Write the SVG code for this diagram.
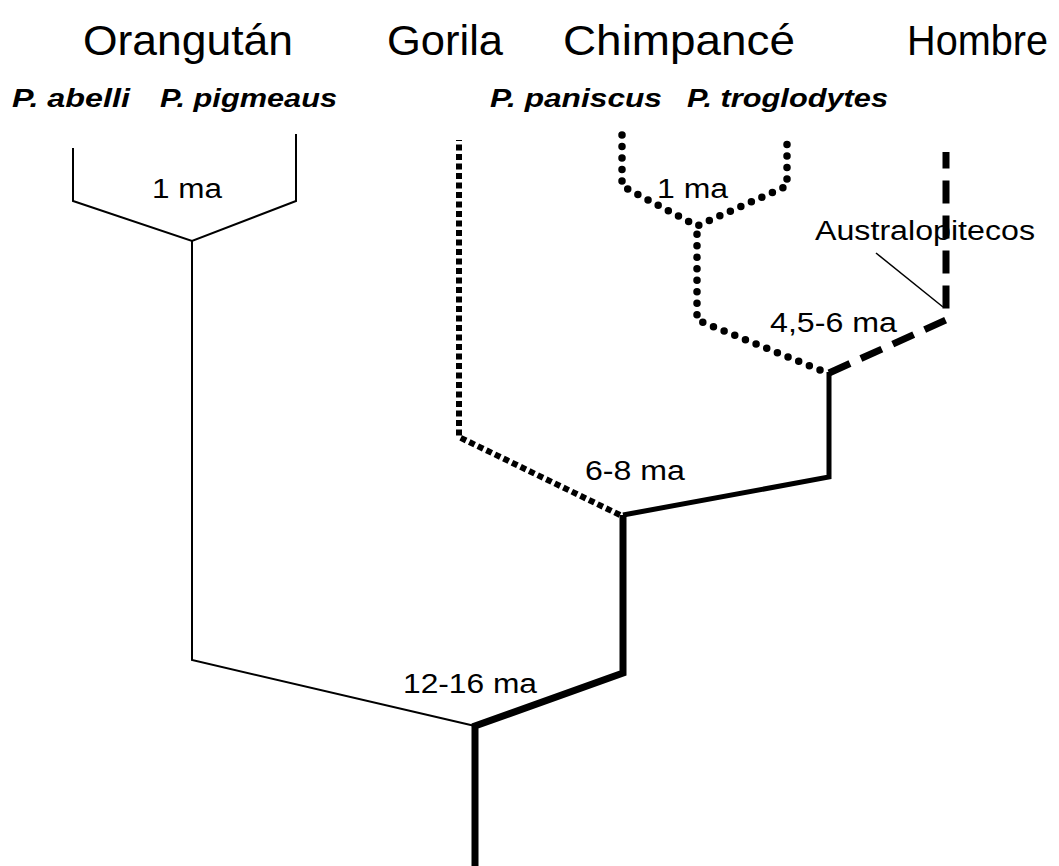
<svg xmlns="http://www.w3.org/2000/svg" width="1059" height="866" viewBox="0 0 1059 866">
  <style>
    .taxon { font-family: "Liberation Sans", Arial, sans-serif; font-size: 43px; fill: #000; }
    .species { font-family: "Liberation Sans", Arial, sans-serif; font-size: 26px; font-weight: bold; font-style: italic; fill: #000; }
    .age { font-family: "Liberation Sans", Arial, sans-serif; font-size: 27px; fill: #000; }
    .branch { fill: none; stroke: #000; stroke-linejoin: miter; }
    .thin { stroke-width: 2; }
    .solid { stroke-width: 5; }
    .heavy { stroke-width: 7; }
    .square-dots { stroke-width: 6; stroke-dasharray: 6 3.5; }
    .round-dots { stroke-width: 7.5; stroke-linecap: round; stroke-dasharray: 0 11.5; }
    .dashed { stroke-width: 7; stroke-dasharray: 23 12; }
  </style>
  <rect width="1059" height="866" fill="#fff"/>

  <!-- Group names -->
  <g id="orangutan">
    <text class="taxon" x="83" y="55" textLength="210" lengthAdjust="spacingAndGlyphs">Orangután</text>
    <text class="species" x="12" y="107" textLength="118" lengthAdjust="spacingAndGlyphs">P. abelli</text>
    <text class="species" x="160" y="107" textLength="177" lengthAdjust="spacingAndGlyphs">P. pigmeaus</text>
    <text class="age" x="152" y="198" textLength="70" lengthAdjust="spacingAndGlyphs">1 ma</text>
  </g>
  <g id="gorila">
    <text class="taxon" x="387" y="55" textLength="116" lengthAdjust="spacingAndGlyphs">Gorila</text>
  </g>
  <g id="chimpance">
    <text class="taxon" x="563" y="55" textLength="232" lengthAdjust="spacingAndGlyphs">Chimpancé</text>
    <text class="species" x="490" y="107" textLength="172" lengthAdjust="spacingAndGlyphs">P. paniscus</text>
    <text class="species" x="687" y="107" textLength="201" lengthAdjust="spacingAndGlyphs">P. troglodytes</text>
    <text class="age" x="657" y="198" textLength="71" lengthAdjust="spacingAndGlyphs">1 ma</text>
  </g>
  <g id="hombre">
    <text class="taxon" x="907" y="55" textLength="141" lengthAdjust="spacingAndGlyphs">Hombre</text>
    <text class="age" x="815" y="240" textLength="220" lengthAdjust="spacingAndGlyphs">Australopitecos</text>
  </g>

  <!-- Divergence times -->
  <g id="divergences">
    <text class="age" x="770" y="332" textLength="127" lengthAdjust="spacingAndGlyphs">4,5-6 ma</text>
    <text class="age" x="585" y="480" textLength="100" lengthAdjust="spacingAndGlyphs">6-8 ma</text>
    <text class="age" x="403" y="693" textLength="134" lengthAdjust="spacingAndGlyphs">12-16 ma</text>
  </g>

  <!-- Branches (drawn over the labels) -->
  <g id="connectors">
    <!-- Orangutan clade -->
    <polyline class="branch thin" points="73,148 73,201 192,241 296,201 296,134"/>
    <polyline class="branch thin" points="192,241 192,660 475,726"/>
    <!-- Root and lineage leading to African apes -->
    <polyline class="branch heavy" points="475,866 475,726 623,673 623,515"/>
    <!-- Gorilla -->
    <polyline class="branch square-dots" points="620,515 459,437 459,140"/>
    <!-- Chimpanzee / human lineage -->
    <polyline class="branch solid" points="623,515 829,477 829,372"/>
    <!-- Chimpanzees -->
    <polyline class="branch round-dots" points="820,370 697,320 697,226"/>
    <polyline class="branch round-dots" points="622,135 622,186 697,226 787,186 787,135"/>
    <!-- Human -->
    <polyline class="branch dashed" points="829,373 946,320 946,152"/>
    <!-- Australopithecine pointer -->
    <line x1="876" y1="253" x2="943" y2="307" stroke="#000" stroke-width="1.5"/>
  </g>
</svg>
